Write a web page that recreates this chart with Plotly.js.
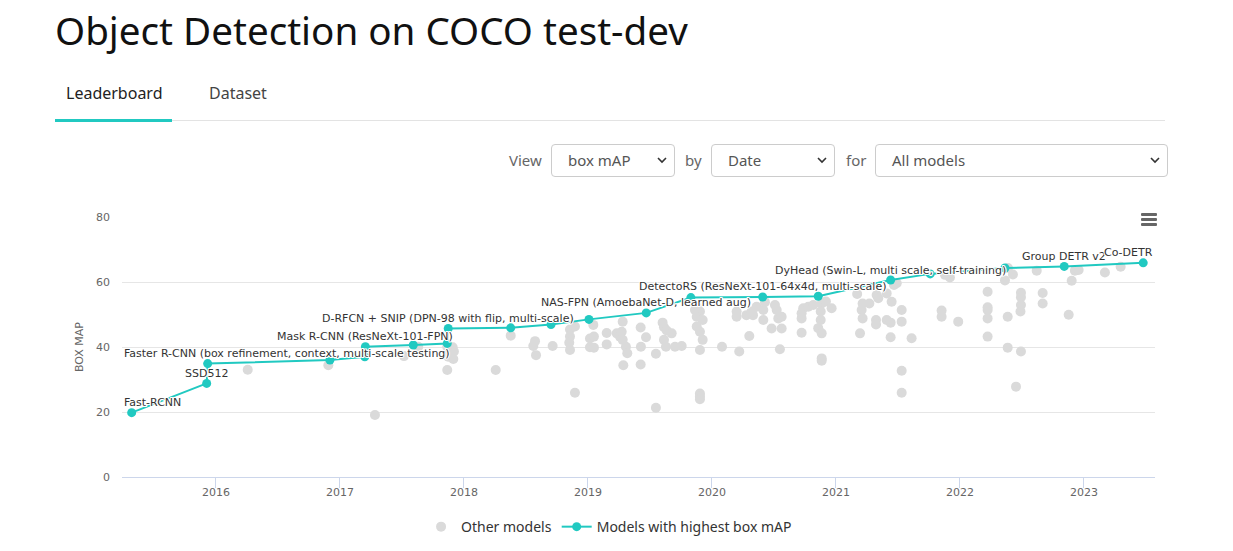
<!DOCTYPE html>
<html>
<head>
<meta charset="utf-8">
<script src="https://cdn.plot.ly/plotly-3.0.1.min.js"></script>
<style>
  body { margin: 0; background: #fff; }
  #wrap { position: relative; width: 1233px; height: 551px; overflow: hidden; font-family: "Noto Sans", sans-serif; }
  #chart { position: absolute; left: 0; top: 0; width: 1233px; height: 560px; }
  .ov { position: absolute; white-space: nowrap; }
  #title { left: 55px; top: 4px; font-size: 38.6px; color: #111; line-height: 52px; }
  .tab { top: 82px; font-size: 16px; line-height: 22px; }
  #tab1 { left: 66px; color: #222; }
  #tab2 { left: 209px; color: #444; }
  #uline { left: 55px; top: 119px; width: 117px; height: 3px; background: #21c9c1; }
  #gline { left: 172px; top: 120px; width: 993px; height: 1px; background: #e3e3e3; }
  .lbl { top: 149px; font-size: 15px; line-height: 22px; color: #666; }
  .sel { top: 144px; height: 33px; box-sizing: border-box; border: 1px solid #ccc; border-radius: 4px; background: #fff;
         font-size: 15px; line-height: 31px; color: #555; }
  .sel span { position: absolute; left: 16px; top: 0; }
  .sel svg { position: absolute; right: 7px; top: 12px; }
  #burger { left: 1141px; top: 213px; width: 16px; }
  #burger div { height: 3px; background: #666; margin-bottom: 2px; border-radius: 1px; }
  .annotation-text { paint-order: stroke; stroke: #fff; stroke-width: 2.2px; stroke-linejoin: round; }
</style>
</head>
<body>
<div id="wrap">
  <div id="chart"></div>
  <div class="ov" id="title">Object Detection on COCO test-dev</div>
  <div class="ov tab" id="tab1">Leaderboard</div>
  <div class="ov tab" id="tab2">Dataset</div>
  <div class="ov" id="gline"></div>
  <div class="ov" id="uline"></div>
  <div class="ov lbl" style="left:509px">View</div>
  <div class="ov sel" style="left:551px;width:124px"><span>box mAP</span>
    <svg width="10" height="7" viewBox="0 0 10 7"><path d="M1 1 L5 5 L9 1" stroke="#333" stroke-width="1.6" fill="none"/></svg></div>
  <div class="ov lbl" style="left:685px">by</div>
  <div class="ov sel" style="left:711px;width:124px"><span>Date</span>
    <svg width="10" height="7" viewBox="0 0 10 7"><path d="M1 1 L5 5 L9 1" stroke="#333" stroke-width="1.6" fill="none"/></svg></div>
  <div class="ov lbl" style="left:846px">for</div>
  <div class="ov sel" style="left:875px;width:293px"><span>All models</span>
    <svg width="10" height="7" viewBox="0 0 10 7"><path d="M1 1 L5 5 L9 1" stroke="#333" stroke-width="1.6" fill="none"/></svg></div>
  <div class="ov" id="burger"><div></div><div></div><div></div></div>
</div>
<script>
// ---------------- DATA (dates as decimal years) ----------------
const tickYears = [2016, 2017, 2018, 2019, 2020, 2021, 2022, 2023];

const otherYear = [
  2016.256, 2016.906, 2017.282, 2017.516, 2017.631, 2017.865, 2017.865, 2017.873, 2017.914, 2017.919,
  2017.909, 2017.865, 2018.256, 2018.377, 2018.573, 2018.559, 2018.581, 2018.715, 2018.855, 2018.855,
  2018.849, 2018.855, 2018.895, 2018.895, 2019.016, 2019.016, 2019.043, 2019.048, 2019.048, 2019.151,
  2019.151, 2019.232, 2019.258, 2019.272, 2019.280, 2019.280, 2019.306, 2019.317, 2019.285, 2019.425,
  2019.427, 2019.425, 2019.468, 2019.548, 2019.548, 2019.602, 2019.613, 2019.635, 2019.613, 2019.629,
  2019.675, 2019.702, 2019.756, 2019.863, 2019.903, 2019.877, 2019.877, 2019.903, 2019.925, 2019.925,
  2019.903, 2019.903, 2019.903, 2019.903, 2019.877, 2020.081, 2020.199, 2020.199, 2020.220, 2020.278,
  2020.301, 2020.331, 2020.360, 2020.320, 2020.414, 2020.414, 2020.427, 2020.481, 2020.508, 2020.522,
  2020.535, 2020.562, 2020.562, 2020.548, 2020.723, 2020.723, 2020.723, 2020.736, 2020.777, 2020.817,
  2020.885, 2020.877, 2020.877, 2020.857, 2020.885, 2020.885, 2020.885, 2020.919, 2020.965, 2021.171,
  2021.215, 2021.207, 2021.215, 2021.194, 2021.269, 2021.328, 2021.341, 2021.323, 2021.323, 2021.409,
  2021.409, 2021.441, 2021.449, 2021.468, 2021.490, 2021.441, 2021.530, 2021.530, 2021.530, 2021.530,
  2021.610, 2021.852, 2021.852, 2021.879, 2021.919, 2021.986, 2022.223, 2022.223, 2022.223, 2022.223,
  2022.223, 2022.363, 2022.387, 2022.427, 2022.385, 2022.385, 2022.452, 2022.492, 2022.492, 2022.492,
  2022.488, 2022.492, 2022.619, 2022.667, 2022.667, 2022.877, 2022.901, 2022.927, 2022.957, 2023.169,
  2023.296
];
const otherMAP = [
  33.0, 34.4, 19.1, 37.2, 40.1, 32.9, 38.1, 37.0, 36.3, 38.6,
  39.9, 40.1, 32.9, 43.5, 41.8, 40.3, 37.5, 40.3, 45.4, 43.2,
  41.3, 39.1, 46.3, 25.9, 42.6, 39.9, 46.8, 43.2, 39.8, 44.3,
  40.8, 44.2, 43.2, 44.7, 47.8, 42.2, 40.1, 38.1, 34.4, 46.0,
  40.1, 34.6, 43.0, 37.9, 21.3, 47.5, 46.1, 45.1, 42.2, 40.1,
  44.2, 40.1, 40.3, 51.4, 50.9, 49.3, 46.3, 44.7, 48.3, 42.2,
  39.1, 25.7, 24.8, 23.9, 52.4, 40.1, 50.9, 49.3, 38.6, 49.8,
  43.4, 49.8, 52.4, 50.9, 51.4, 48.3, 53.8, 45.7, 52.9, 51.4,
  48.8, 49.3, 45.7, 39.3, 50.4, 48.8, 44.4, 51.9, 52.4, 52.9,
  53.4, 50.9, 48.3, 45.8, 44.2, 36.5, 35.8, 54.0, 51.9, 56.3,
  53.4, 51.4, 48.8, 44.2, 53.4, 56.0, 55.0, 48.3, 46.9, 56.5,
  48.3, 47.5, 53.9, 59.1, 59.6, 43.0, 51.4, 47.8, 32.7, 25.9,
  42.7, 51.2, 49.3, 62.2, 61.4, 47.8, 57.0, 52.2, 51.4, 48.8,
  43.2, 60.5, 64.3, 62.3, 49.3, 39.8, 27.8, 56.7, 55.3, 52.9,
  50.9, 38.6, 63.5, 56.6, 53.4, 49.9, 60.4, 63.5, 63.7, 62.9,
  64.7
];

const sotaYear = [
  2015.320, 2015.925, 2015.933, 2016.919, 2017.200, 2017.205, 2017.591, 2017.865, 2017.873, 2018.377,
  2018.702, 2019.008, 2019.470, 2019.830, 2020.409, 2020.857, 2021.441, 2021.760, 2022.363, 2022.841,
  2023.478
];
const sotaMAP = [
  19.8, 28.8, 34.9, 36.0, 37.0, 40.1, 40.6, 41.1, 45.7, 45.9,
  46.9, 48.5, 50.5, 55.2, 55.4, 55.6, 60.6, 62.5, 64.3, 64.8,
  65.9
];
const sotaNames = [
  "Fast-RCNN", "SSD512", "Faster R-CNN (box refinement, context, multi-scale testing)", "", "",
  "Mask R-CNN (ResNeXt-101-FPN)", "", "", "D-RFCN + SNIP (DPN-98 with flip, multi-scale)", "",
  "", "", "NAS-FPN (AmoebaNet-D, learned aug)", "", "DetectoRS (ResNeXt-101-64x4d, multi-scale)",
  "", "DyHead (Swin-L, multi scale, self-training)", "", "", "Group DETR v2",
  "Co-DETR"
];

// ---------------- STYLE ----------------
const TEAL = "#21c9c1";
const GREY = "#dadada";
const xRange = [2015.242, 2023.573];
// labels that Highcharts pushed inside the plot edges
const labelAnchor = { "Fast-RCNN": "left", "Faster R-CNN (box refinement, context, multi-scale testing)": "left", "Co-DETR": "right" };

const annotations = [];
sotaNames.forEach((name, i) => {
  if (!name) return;
  const anchor = labelAnchor[name] || "center";
  annotations.push({
    x: anchor === "left" ? xRange[0] : anchor === "right" ? xRange[1] : sotaYear[i],
    y: sotaMAP[i],
    xref: "x", yref: "y",
    text: name,
    showarrow: false,
    xanchor: anchor, yanchor: "middle",
    yshift: 10,
    font: { family: "DejaVu Sans", size: 11, color: "#333" }
  });
});

const traces = [
  {
    type: "scatter", mode: "markers", name: "Other models",
    x: otherYear, y: otherMAP,
    marker: { color: GREY, size: 10 },
    hoverinfo: "skip"
  },
  {
    type: "scatter", mode: "lines+markers", name: "Models with highest box mAP",
    x: sotaYear, y: sotaMAP,
    line: { color: TEAL, width: 2 },
    marker: { color: TEAL, size: 9 },
    hoverinfo: "skip"
  }
];

const layout = {
  width: 1233, height: 560,
  margin: { l: 122, r: 78, t: 217, b: 83 },
  paper_bgcolor: "rgba(0,0,0,0)", plot_bgcolor: "rgba(0,0,0,0)",
  font: { family: "DejaVu Sans", size: 11, color: "#666" },
  xaxis: {
    range: xRange, tickmode: "array", tickvals: tickYears, tickformat: "d",
    showgrid: false, zeroline: false, showline: true, linecolor: "#ccd6eb", linewidth: 1,
    ticks: "outside", ticklen: 10, tickcolor: "#ccd6eb", tickwidth: 1,
    ticklabelstandoff: -5,
    tickfont: { family: "DejaVu Sans", size: 11, color: "#666" }
  },
  yaxis: {
    range: [0, 80], tickmode: "array", tickvals: [0, 20, 40, 60, 80],
    showgrid: true, gridcolor: "#e6e6e6", gridwidth: 1, zeroline: false, showline: false,
    ticklabelstandoff: 11,
    tickfont: { family: "DejaVu Sans", size: 11, color: "#666" },
    title: { text: "BOX MAP", font: { family: "DejaVu Sans", size: 11, color: "#666" }, standoff: 10 }
  },
  showlegend: true,
  legend: {
    orientation: "h", x: 0.4715, xanchor: "center", y: -0.131, yanchor: "top",
    font: { family: "Noto Sans", size: 14, color: "#333" },
    bgcolor: "rgba(0,0,0,0)"
  },
  annotations: annotations
};

Plotly.newPlot("chart", traces, layout, { displayModeBar: false, staticPlot: true });
</script>
</body>
</html>
